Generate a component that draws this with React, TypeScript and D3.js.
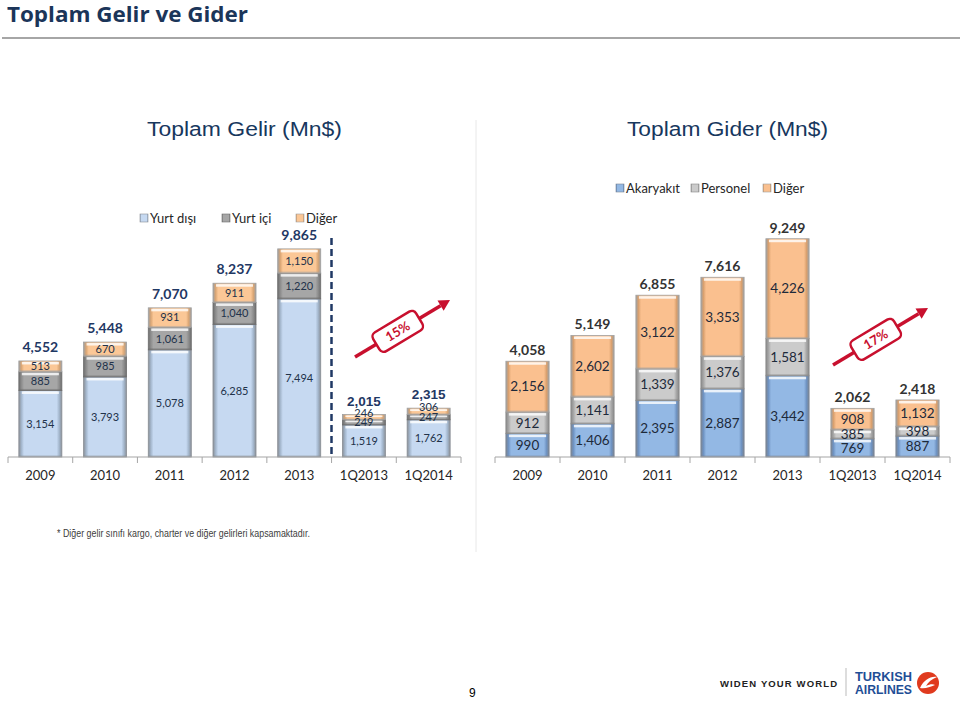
import React from 'react';
import * as d3 from 'd3';

// ---------- DATA ----------
const categories = ['2009', '2010', '2011', '2012', '2013', '1Q2013', '1Q2014'];

const gelirSeriesNames = ['Yurt dışı', 'Yurt içi', 'Diğer'];
const gelirYurtDisi = [3154, 3793, 5078, 6285, 7494, 1519, 1762];
const gelirYurtIci = [885, 985, 1061, 1040, 1220, 249, 247];
const gelirDiger = [513, 670, 931, 911, 1150, 246, 306];
const gelirTotals = ['4,552', '5,448', '7,070', '8,237', '9,865', '2,015', '2,315'];

const giderSeriesNames = ['Akaryakıt', 'Personel', 'Diğer'];
const giderAkaryakit = [990, 1406, 2395, 2887, 3442, 769, 887];
const giderPersonel = [912, 1141, 1339, 1376, 1581, 385, 398];
const giderDiger = [2156, 2602, 3122, 3353, 4226, 908, 1132];
const giderTotals = ['4,058', '5,149', '6,855', '7,616', '9,249', '2,062', '2,418'];

const fmt = d3.format(',');
const FONT = 'Lato, "Open Sans", sans-serif';
const ARIAL = '"Liberation Sans", Arial, sans-serif';

type Pal = { id: string; body: string; edge: string; dark: string };

const leftPal: Pal[] = [
  { id: 'lb', body: '#C6D9F1', edge: '#A3B6CC', dark: '#8A8F96' },
  { id: 'lg', body: '#A6A6A6', edge: '#8C8C8C', dark: '#6E6E6E' },
  { id: 'lo', body: '#FBC796', edge: '#D9A574', dark: '#A0A0A0' },
];
const rightPal: Pal[] = [
  { id: 'rb', body: '#93B8E4', edge: '#6F93C2', dark: '#7B8594' },
  { id: 'rg', body: '#CBCBCB', edge: '#A6A6A6', dark: '#8A8A8A' },
  { id: 'ro', body: '#FAC08F', edge: '#D9A06E', dark: '#A0A0A0' },
];

function Gradients({ pal }: { pal: Pal[] }) {
  return (
    <>
      {pal.map((p) => (
        <linearGradient key={p.id} id={'g-' + p.id} x1="0" x2="1" y1="0" y2="0">
          <stop offset="0%" stopColor={p.dark} />
          <stop offset="6%" stopColor={p.edge} />
          <stop offset="12%" stopColor={p.body} />
          <stop offset="88%" stopColor={p.body} />
          <stop offset="94%" stopColor={p.edge} />
          <stop offset="100%" stopColor={p.dark} />
        </linearGradient>
      ))}
    </>
  );
}

type ChartProps = {
  series: number[][];
  totals: string[];
  pal: Pal[];
  x0: number;
  x1: number;
  base: number;
  pxPer10k: number;
  segFont: number;
  segColor: string;
  totFont: number;
  totColor: string;
  totWeight: number;
  totOffset: number;
  left: boolean;
};

function StackedChart(p: ChartProps) {
  const x = d3
    .scaleBand<string>()
    .domain(categories)
    .range([p.x0, p.x1])
    .paddingInner(0.335)
    .paddingOuter(0.1675);
  const y = d3.scaleLinear().domain([0, 10000]).range([p.base, p.base - p.pxPer10k]);
  const rows = categories.map((c, i) => ({ cat: c, s0: p.series[0][i], s1: p.series[1][i], s2: p.series[2][i] }));
  const stack = d3.stack<any>().keys(['s0', 's1', 's2'])(rows);
  const step = x.step();
  const bounds = d3.range(categories.length + 1).map((i) => p.x0 + i * step);
  const bw = x.bandwidth();

  return (
    <g>
      {stack.map((layer, li) =>
        layer.map((d, i) => {
          const xx = x(categories[i])!;
          const yTop = y(d[1]);
          const yBot = y(d[0]);
          const h = yBot - yTop;
          const pal = p.pal[li];
          const hl = Math.min(2.5, h * 0.3);
          return (
            <g key={li + '-' + i}>
              <rect x={xx} y={yTop} width={bw} height={h} fill={`url(#g-${pal.id})`} stroke={pal.dark} strokeWidth={0.8} />
              <rect x={xx + 3} y={yTop + 1} width={bw - 6} height={hl} fill="#ffffff" opacity={0.8} />
              <rect x={xx} y={yBot - Math.min(1.5, h * 0.2)} width={bw} height={Math.min(1.5, h * 0.2)} fill={pal.dark} opacity={0.5} />
            </g>
          );
        })
      )}
      {stack.map((layer, li) =>
        layer.map((d, i) => {
          const xx = x(categories[i])! + bw / 2;
          const yTop = y(d[1]);
          const yBot = y(d[0]);
          const h = yBot - yTop;
          let cy = (yTop + yBot) / 2;
          if (p.left && li === 2 && h < 8) cy -= 4;
          return (
            <text
              key={'l' + li + '-' + i}
              x={xx}
              y={cy}
              dy="0.35em"
              textAnchor="middle"
              fontFamily={FONT}
              fontSize={p.segFont}
              fill={p.segColor}
            >
              {fmt(p.series[li][i])}
            </text>
          );
        })
      )}
      {categories.map((c, i) => {
        const top = y(stack[2][i][1]);
        const q = p.left && i >= 5;
        return (
          <text
            key={'t' + c}
            x={x(c)! + bw / 2}
            y={top - p.totOffset}
            textAnchor="middle"
            fontFamily={q ? ARIAL : FONT}
            fontSize={q ? p.totFont - 0.5 : p.totFont}
            fontWeight={p.totWeight}
            fill={p.totColor}
          >
            {p.totals[i]}
          </text>
        );
      })}
      <line x1={p.x0} x2={p.x1} y1={p.base} y2={p.base} stroke="#A6A6A6" strokeWidth={1.2} />
      {bounds.map((bx, i) => (
        <line key={'tk' + i} x1={bx} x2={bx} y1={p.base} y2={p.base + 6} stroke="#A6A6A6" strokeWidth={1} />
      ))}
      {categories.map((c) => (
        <text
          key={'c' + c}
          x={x(c)! + bw / 2}
          y={p.base + 23}
          textAnchor="middle"
          fontFamily={FONT}
          fontSize={13}
          fill="#262626"
        >
          {c}
        </text>
      ))}
    </g>
  );
}

function Legend({ names, pal, xs, yc }: { names: string[]; pal: Pal[]; xs: number[]; yc: number }) {
  return (
    <g>
      {names.map((n, i) => (
        <g key={n}>
          <rect x={xs[i]} y={yc - 4} width={8} height={8} fill={`url(#g-${pal[i].id})`} stroke={pal[i].dark} strokeWidth={0.6} />
          <text x={xs[i] + 10} y={yc} dy="0.35em" fontFamily={FONT} fontSize={13} fill="#262626">
            {n}
          </text>
        </g>
      ))}
    </g>
  );
}

function GrowthArrow({ sx, sy, ex, ey, label }: { sx: number; sy: number; ex: number; ey: number; label: string }) {
  const ang = (Math.atan2(ey - sy, ex - sx) * 180) / Math.PI;
  const len = Math.hypot(ex - sx, ey - sy);
  const ux = (ex - sx) / len;
  const uy = (ey - sy) / len;
  const hx = ex - ux * 11;
  const hy = ey - uy * 11;
  const px = -uy;
  const py = ux;
  const cx = sx + (ex - sx) * 0.45;
  const cy = sy + (ey - sy) * 0.45;
  const red = '#C8102E';
  return (
    <g>
      <line x1={sx} y1={sy} x2={hx} y2={hy} stroke={red} strokeWidth={3.5} />
      <polygon points={`${ex},${ey} ${hx + px * 6},${hy + py * 6} ${hx - px * 6},${hy - py * 6}`} fill={red} />
      <g transform={`translate(${cx},${cy}) rotate(${ang})`}>
        <rect x={-25} y={-11} width={50} height={22} rx={5} fill="#fff" stroke={red} strokeWidth={2.5} />
        <text x={0} y={0} dy="0.35em" textAnchor="middle" fontFamily={FONT} fontWeight={700} fontSize={13} fill={red}>
          {label}
        </text>
      </g>
    </g>
  );
}

export default function App() {
  return (
    <svg
      width={960}
      height={701}
      viewBox="0 0 960 701"
      style={{ position: 'absolute', left: 0, top: 0, background: '#fff' }}
    >
      <defs>
        <Gradients pal={leftPal} />
        <Gradients pal={rightPal} />
      </defs>
      <rect width={960} height={701} fill="#fff" />
      <text x={7} y={22} fontFamily='"Open Sans", sans-serif' fontWeight={700} fontSize={21.5} fill="#1B3559" textLength={241} lengthAdjust="spacingAndGlyphs">
        Toplam Gelir ve Gider
      </text>
      <line x1={2} x2={960} y1={38} y2={38} stroke="#A6A6A6" strokeWidth={2} />
      <line x1={476} x2={476} y1={120} y2={552} stroke="#E8E8E8" strokeWidth={1} />

      <text x={147} y={136} fontFamily={ARIAL} fontSize={20} fill="#17375E" textLength={195} lengthAdjust="spacingAndGlyphs">
        Toplam Gelir (Mn$)
      </text>
      <text x={627} y={136} fontFamily={ARIAL} fontSize={20} fill="#17375E" textLength={201} lengthAdjust="spacingAndGlyphs">
        Toplam Gider (Mn$)
      </text>

      <Legend names={gelirSeriesNames} pal={leftPal} xs={[140, 222, 296]} yc={218} />
      <Legend names={giderSeriesNames} pal={rightPal} xs={[616, 691, 763]} yc={188} />

      <StackedChart
        series={[gelirYurtDisi, gelirYurtIci, gelirDiger]}
        totals={gelirTotals}
        pal={leftPal}
        x0={8}
        x1={461}
        base={457}
        pxPer10k={211}
        segFont={11}
        segColor="#22324A"
        totFont={14}
        totColor="#1F3864"
        totWeight={700}
        totOffset={9}
        left={true}
      />
      <line x1={331.5} x2={331.5} y1={238} y2={457} stroke="#1F3864" strokeWidth={2.5} strokeDasharray="7,4" />

      <StackedChart
        series={[giderAkaryakit, giderPersonel, giderDiger]}
        totals={giderTotals}
        pal={rightPal}
        x0={495}
        x1={950}
        base={457}
        pxPer10k={236}
        segFont={13.5}
        segColor="#1E2A3A"
        totFont={14}
        totColor="#333333"
        totWeight={700}
        totOffset={6}
        left={false}
      />

      <GrowthArrow sx={355} sy={357} ex={450} ey={300} label="15%" />
      <GrowthArrow sx={833} sy={365} ex={928} ey={308} label="17%" />

      <text x={57} y={537} fontFamily={ARIAL} fontSize={11.5} fill="#404040" textLength={253} lengthAdjust="spacingAndGlyphs">
        * Diğer gelir sınıfı kargo, charter ve diğer gelirleri kapsamaktadır.
      </text>

      <text x={469} y={697} fontFamily={ARIAL} fontSize={12} fill="#000">9</text>

      <text x={720} y={687} fontFamily={ARIAL} fontWeight={700} fontSize={9.5} fill="#222" textLength={117} lengthAdjust="spacing">
        WIDEN YOUR WORLD
      </text>
      <line x1={846} x2={846} y1={668} y2={696} stroke="#BBBBBB" strokeWidth={1} />
      <text x={855} y={681} fontFamily={ARIAL} fontWeight={700} fontSize={13} fill="#1F4E96" textLength={57} lengthAdjust="spacingAndGlyphs">
        TURKISH
      </text>
      <text x={855} y={694} fontFamily={ARIAL} fontWeight={700} fontSize={13} fill="#1F4E96" textLength={57} lengthAdjust="spacingAndGlyphs">
        AIRLINES
      </text>
      <circle cx={928} cy={683} r={11} fill="#E03A1E" />
      <path d="M920,688 C924,680 930,676 937,677 C932,679 928,682 926,686 C930,684 933,684 935,685 C930,687 925,689 920,688 Z" fill="#fff" />
    </svg>
  );
}
